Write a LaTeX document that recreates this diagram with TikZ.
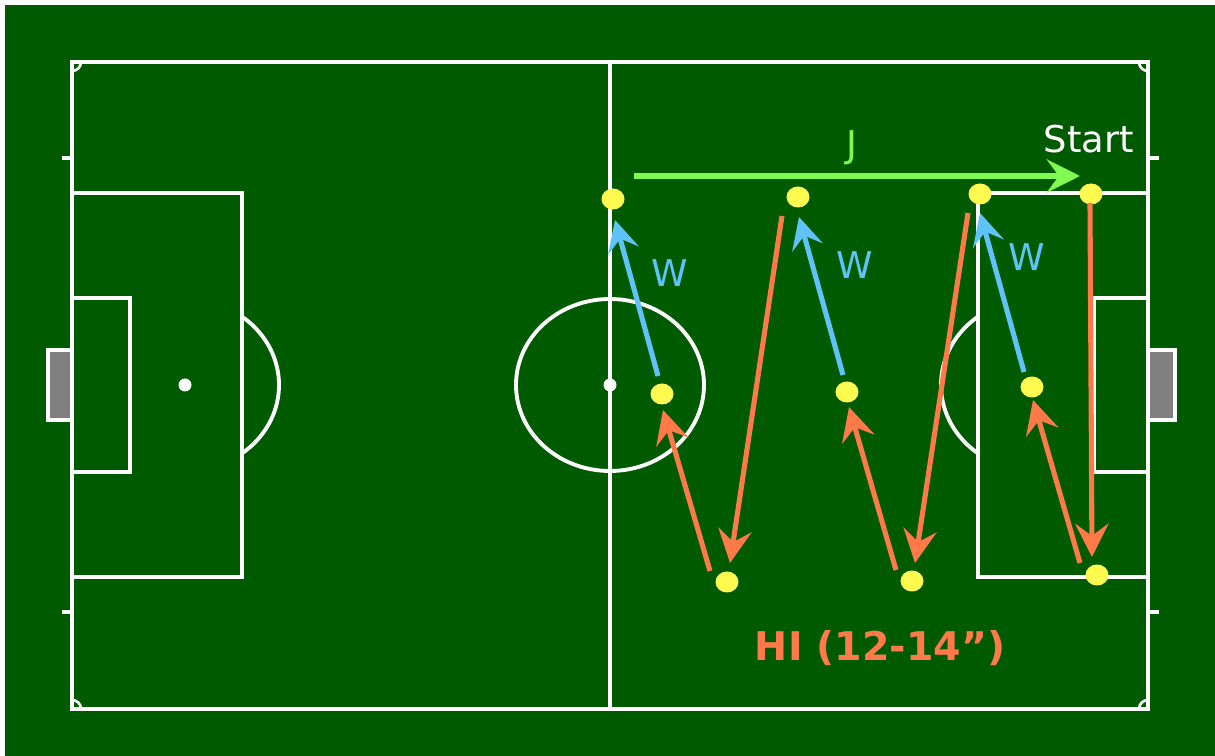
\documentclass[tikz,border=0pt]{standalone}
\usepackage{fontspec}
\setmainfont{DejaVu Sans}
\usetikzlibrary{arrows.meta,shapes.geometric}

\definecolor{grass}{RGB}{0,90,0}
\definecolor{dotyellow}{RGB}{255,250,80}
\definecolor{hiorange}{RGB}{255,122,72}
\definecolor{wblue}{RGB}{95,195,250}
\definecolor{jgreen}{RGB}{128,250,80}
\definecolor{goalgray}{RGB}{128,128,128}

\begin{document}
\begin{tikzpicture}[
    x=0.02cm, y=-0.02cm,
    line/.style={draw=white, line width=2.2pt},
    dot/.style={ellipse, fill=dotyellow, minimum width=0.46cm, minimum height=0.42cm, inner sep=0pt},
    hiarr/.style={hiorange, line width=2.9pt, -{Stealth[length=19pt, width=19pt, inset=7pt]}},
    warr/.style={wblue, line width=2.9pt, -{Stealth[length=18pt, width=18pt, inset=7pt]}},
    jarr/.style={jgreen, line width=3.4pt, -{Stealth[length=19pt, width=19pt, inset=7pt]}},
    lbl/.style={font=\fontsize{21}{25}\selectfont, inner sep=0pt},
  ]
    % background
    \fill[white] (0,0) rectangle (1215,756);
    \fill[grass] (5,5) rectangle (1215,756);
    \useasboundingbox (0,0) rectangle (1215,756);

    % === Pitch ===
    \draw[line] (72,62) rectangle (1148,709);
    \draw[line] (610,62) -- (610,709);
    \draw[line] (610,385) ellipse [x radius=94, y radius=86];
    \fill[white] (610,385) circle [radius=6.5];

    % corners and ticks
    \foreach \cx/\cy/\a in {72/62/0, 1148/62/90, 1148/709/180, 72/709/270}
      \draw[white, line width=1.5pt] ([shift={(\a:9)}]\cx,\cy) arc [start angle=\a, delta angle=90, radius=9];
    \foreach \ty in {158, 612} {
      \draw[line] (62,\ty) -- (72,\ty);
      \draw[line] (1148,\ty) -- (1159,\ty);
    }

    % left end
    \draw[line] (72,193) -| (242,577) -- (72,577);
    \draw[line] (72,298) -| (130,472) -- (72,472);
    \draw[line, fill=goalgray] (72,350) rectangle (48,420);
    \fill[white] (185,385) circle [radius=6.5];
    \begin{scope}
      \clip (242,250) rectangle (400,520);
      \draw[line] (185,385) ellipse [x radius=94, y radius=86];
    \end{scope}

    % right end
    \draw[line] (1148,193) -| (978,577) -- (1148,577);
    \draw[line] (1148,298) -| (1094,472) -- (1148,472);
    \draw[line, fill=goalgray] (1148,350) rectangle (1175,420);
    \begin{scope}
      \clip (978,250) rectangle (800,520);
      \draw[line] (1035,385) ellipse [x radius=94, y radius=86];
    \end{scope}

    % === Players ===
    \foreach \n/\px/\py in {1/613/199, 2/662/394, 3/727/582, 4/798/197, 5/847/392,
                            6/912/581, 7/980/194, 8/1032/387, 9/1097/575, 10/1091/194}
      \node[dot] (d\n) at (\px,\py) {};

    % === Runs ===
    \draw[hiarr] ([shift={(-1,9)}]d10.center) -- ([shift={(-5,-18)}]d9.center);
    \draw[hiarr] ([shift={(-17,-12)}]d9.center) -- ([shift={(1,13)}]d8.center);
    \draw[warr] ([shift={(-8,-15)}]d8.center) -- ([shift={(0,19)}]d7.center);
    \draw[hiarr] ([shift={(-12,19)}]d7.center) -- ([shift={(3,-18)}]d6.center);
    \draw[hiarr] ([shift={(-16,-11)}]d6.center) -- ([shift={(2,15)}]d5.center);
    \draw[warr] ([shift={(-4,-17)}]d5.center) -- ([shift={(1,20)}]d4.center);
    \draw[hiarr] ([shift={(-16,19)}]d4.center) -- ([shift={(3,-19)}]d3.center);
    \draw[hiarr] ([shift={(-17,-11)}]d3.center) -- ([shift={(1,16)}]d2.center);
    \draw[warr] ([shift={(-4,-18)}]d2.center) -- ([shift={(2,21)}]d1.center);
    \draw[jarr] ([shift={(21,-23)}]d1.center) -- ([shift={(-11,-18)}]d10.center);

    % === Labels ===
    \node[lbl, white] (start) at (1089,139) {Start};
    \node[lbl, jgreen] (jlbl) at (852,148) {J};
    \node[lbl, wblue] (w1) at (670,273) {W};
    \node[lbl, wblue] (w2) at (855,265) {W};
    \node[lbl, wblue] (w3) at (1027,257) {W};
    \node[lbl, hiorange, font=\fontsize{22.5}{26}\selectfont\bfseries] (hi) at (880,648) {HI (12-14”)};
  \end{tikzpicture}
\end{document}
